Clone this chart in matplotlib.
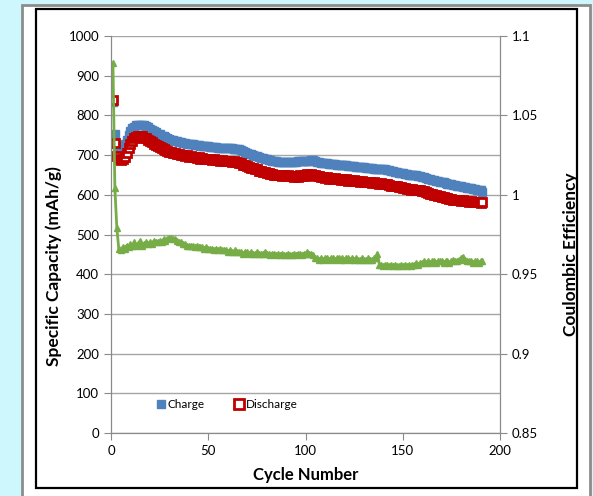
import numpy as np
import matplotlib
matplotlib.use("Agg")
import matplotlib.pyplot as plt
from matplotlib.patches import Rectangle

plt.rcParams['font.family'] = ['Lato', 'DejaVu Sans']

# cycling data: specific capacity (mAh/g) and coulombic efficiency per cycle
charge = [
    835, 752, 724, 716, 714, 718, 727, 739, 751, 761,
    768, 772, 775, 777, 777, 776, 775, 773, 770, 767,
    763, 760, 757, 754, 752, 749, 747, 745, 742, 740,
    739, 737, 736, 735, 733, 732, 731, 730, 729, 728,
    727, 727, 726, 725, 725, 724, 723, 723, 722, 722,
    721, 721, 720, 720, 719, 719, 719, 718, 718, 717,
    717, 717, 716, 716, 716, 715, 712, 710, 708, 706,
    704, 702, 700, 698, 697, 695, 693, 692, 690, 689,
    688, 687, 686, 685, 684, 683, 683, 683, 682, 682,
    682, 682, 683, 683, 683, 684, 684, 684, 685, 685,
    686, 686, 687, 687, 685, 683, 682, 681, 680, 679,
    679, 678, 678, 677, 677, 676, 676, 675, 675, 674,
    674, 673, 673, 672, 672, 671, 670, 670, 669, 669,
    668, 668, 667, 667, 666, 666, 666, 665, 665, 664,
    664, 663, 662, 660, 659, 658, 657, 656, 655, 654,
    653, 652, 651, 650, 650, 649, 649, 648, 647, 646,
    645, 643, 641, 640, 638, 637, 636, 634, 633, 632,
    631, 630, 628, 627, 626, 625, 624, 623, 622, 621,
    620, 619, 618, 617, 616, 615, 614, 613, 612, 611, 608,
]
discharge = [
    838, 730, 698, 690, 688, 690, 695, 706, 718, 728,
    736, 742, 746, 749, 748, 747, 744, 742, 738, 735,
    732, 728, 726, 722, 721, 717, 716, 713, 711, 708,
    708, 705, 705, 702, 702, 700, 700, 698, 699, 696,
    697, 694, 696, 692, 694, 691, 692, 690, 691, 689,
    690, 688, 689, 687, 688, 686, 687, 685, 686, 684,
    685, 683, 684, 682, 683, 681, 679, 676, 675, 672,
    671, 668, 667, 664, 664, 661, 660, 657, 657, 654,
    655, 652, 653, 650, 651, 649, 650, 648, 649, 647,
    649, 647, 648, 646, 648, 646, 649, 647, 650, 648,
    652, 650, 653, 651, 650, 647, 647, 644, 645, 642,
    644, 641, 643, 640, 642, 639, 641, 638, 640, 637,
    639, 636, 638, 635, 637, 634, 635, 633, 634, 632,
    633, 631, 632, 630, 631, 629, 630, 628, 629, 627,
    628, 626, 625, 623, 623, 621, 621, 619, 619, 617,
    617, 615, 615, 613, 614, 612, 613, 611, 611, 609,
    609, 606, 605, 603, 602, 600, 600, 597, 597, 595,
    595, 593, 592, 590, 590, 588, 588, 586, 587, 585,
    586, 584, 585, 583, 584, 582, 583, 581, 582, 580, 583,
]
efficiency = [
    1.083, 1.004, 0.979, 0.966, 0.965, 0.967, 0.966, 0.968, 0.967, 0.969,
    0.968, 0.970, 0.968, 0.969, 0.971, 0.968, 0.969, 0.970, 0.969, 0.970,
    0.969, 0.971, 0.970, 0.970, 0.971, 0.970, 0.972, 0.971, 0.972, 0.973,
    0.973, 0.972, 0.972, 0.971, 0.970, 0.970, 0.969, 0.969, 0.968, 0.968,
    0.968, 0.968, 0.967, 0.968, 0.967, 0.967, 0.967, 0.966, 0.967, 0.966,
    0.966, 0.966, 0.965, 0.966, 0.965, 0.966, 0.965, 0.965, 0.965, 0.964,
    0.965, 0.964, 0.964, 0.965, 0.964, 0.964, 0.964, 0.963, 0.964, 0.964,
    0.963, 0.964, 0.963, 0.963, 0.964, 0.963, 0.963, 0.963, 0.964, 0.963,
    0.963, 0.962, 0.963, 0.963, 0.962, 0.963, 0.962, 0.963, 0.962, 0.962,
    0.963, 0.962, 0.962, 0.963, 0.962, 0.963, 0.963, 0.962, 0.963, 0.963,
    0.964, 0.963, 0.963, 0.962, 0.960, 0.960, 0.959, 0.960, 0.959, 0.960,
    0.960, 0.959, 0.960, 0.960, 0.959, 0.960, 0.960, 0.959, 0.960, 0.959,
    0.960, 0.960, 0.959, 0.960, 0.959, 0.960, 0.959, 0.959, 0.960, 0.959,
    0.959, 0.960, 0.959, 0.959, 0.960, 0.960, 0.963, 0.956, 0.956, 0.955,
    0.956, 0.956, 0.955, 0.956, 0.955, 0.956, 0.955, 0.955, 0.956, 0.955,
    0.956, 0.955, 0.956, 0.955, 0.956, 0.956, 0.957, 0.956, 0.957, 0.957,
    0.958, 0.957, 0.958, 0.957, 0.958, 0.958, 0.957, 0.958, 0.958, 0.958,
    0.957, 0.958, 0.958, 0.957, 0.958, 0.959, 0.958, 0.958, 0.959, 0.960,
    0.961, 0.959, 0.958, 0.958, 0.958, 0.957, 0.958, 0.958, 0.957, 0.958, 0.958,
]
cycles = np.arange(1, len(charge) + 1)

cap_ticks = [0, 100, 200, 300, 400, 500, 600, 700, 800, 900, 1000]
ce_ticks = [0.85, 0.9, 0.95, 1.0, 1.05, 1.1]
ce_labels = ['0.85', '0.9', '0.95', '1', '1.05', '1.1']
x_ticks = [0, 50, 100, 150, 200]

W, H = 593, 496
fig = plt.figure(figsize=(W / 100, H / 100), dpi=100)
fig.patch.set_facecolor('#cdf7fd')

# white card with grey edge, and the black chart frame inside it
fig.patches.append(Rectangle((22 / W, -0.02), (590 - 22) / W, (496 - 5) / H + 0.02,
                             transform=fig.transFigure, facecolor='white',
                             edgecolor='#8c8c8c', lw=2, zorder=-3))
fig.patches.append(Rectangle((36 / W, 1 - 488 / H), (577 - 36) / W, (488 - 9) / H,
                             transform=fig.transFigure, facecolor='none',
                             edgecolor='black', lw=1.6, zorder=-2))

ax = fig.add_axes([111 / W, 1 - 433 / H, (500 - 111) / W, (433 - 36) / H])
ax.set_facecolor('none')
grey = '#8a8a8a'

ax.plot(cycles, charge, ls='none', marker='s', ms=6, color='#4f81bd',
        mec='#4f81bd', label='Charge')
ax.plot(cycles, discharge, ls='none', marker='s', ms=6.2, mfc='white',
        mec='#c00000', mew=2, label='Discharge')

ax.set_xlim(0, 200)
ax.set_ylim(0, 1000)
ax.set_xticks(x_ticks)
ax.set_yticks(cap_ticks)
ax.grid(axis='y', color='#a6a6a6', lw=1)
ax.set_axisbelow(True)
for side in ['left', 'bottom', 'right']:
    ax.spines[side].set_color(grey)
ax.spines['top'].set_visible(False)
ax.tick_params(axis='both', colors=grey, labelcolor='black', labelsize=9.5,
               length=5, direction='out')

ax.set_xlabel('Cycle Number', fontsize=12, fontweight='bold')
ax.xaxis.set_label_coords(0.5, -0.086)
ax.set_ylabel('Specific Capacity (mAh/g)', fontsize=12.5, fontweight='bold')
ax.yaxis.set_label_coords(-0.125, 0.42)

leg = ax.legend(loc='center left', bbox_to_anchor=(0.093, 0.072), ncol=2,
                frameon=False, fontsize=8.5, handlelength=0.6, handletextpad=0.25,
                columnspacing=2.6, markerscale=1.05)

ax2 = ax.twinx()
ax2.plot(cycles, efficiency, color='#77ad47', lw=2, marker='^', ms=4.5,
         mec='#77ad47', mfc='#77ad47')
ax2.set_ylim(0.85, 1.1)
ax2.set_yticks(ce_ticks)
ax2.set_yticklabels(ce_labels)
for side in ['left', 'bottom', 'right']:
    ax2.spines[side].set_color(grey)
ax2.spines['top'].set_visible(False)
ax2.tick_params(axis='y', colors=grey, labelcolor='black', labelsize=9.5,
                length=5, direction='out')
ax2.set_ylabel('Coulombic Efficiency', fontsize=12.5, fontweight='bold')
ax2.yaxis.set_label_coords(1.162, 0.45)

fig.savefig('out.png', dpi=100, facecolor=fig.get_facecolor())
